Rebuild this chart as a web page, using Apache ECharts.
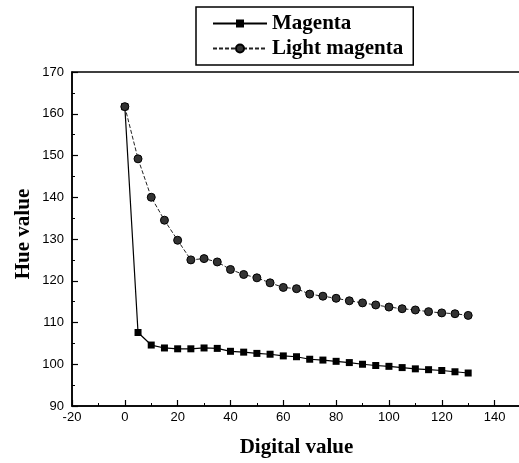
<!DOCTYPE html>
<html><head><meta charset="utf-8">
<script src="https://cdn.jsdelivr.net/npm/echarts@6/dist/echarts.min.js"></script>
<style>html,body{margin:0;padding:0;background:#fff}#c{width:519px;height:463px}</style>
</head><body><div id="c"></div>
<script>
const digital = [0,5,10,15,20,25,30,35,40,45,50,55,60,65,70,75,80,85,90,95,100,105,110,115,120,125,130];
const magenta = [161.7,107.6,104.6,103.9,103.7,103.7,103.9,103.8,103.1,102.9,102.6,102.4,102.0,101.8,101.2,101.0,100.7,100.4,100.0,99.7,99.5,99.2,98.9,98.7,98.5,98.2,97.9];
const lightMagenta = [161.7,149.2,140.0,134.5,129.7,125.0,125.3,124.5,122.7,121.5,120.7,119.5,118.4,118.1,116.8,116.3,115.8,115.2,114.7,114.2,113.7,113.3,113.0,112.6,112.3,112.1,111.7];
const xTicks = [-20,0,20,40,60,80,100,120,140];
const yTicks = [90,100,110,120,130,140,150,160,170];

const chart = echarts.init(document.getElementById('c'), null, {renderer:'canvas'});
const pair = (xs, ys) => xs.map((x,i)=>[x, ys[i]]);
chart.setOption({
  animation:false,
  backgroundColor:'#fff',
  grid:{left:72, right:-2, top:72, bottom:57, outerBoundsMode:'none', containLabel:false,
    show:true, borderColor:'#000', borderWidth:1.5, backgroundColor:'transparent'},
  legend:{
    show:true, orient:'vertical', left:196, top:7, width:218,
    padding:[6,10,6,16], itemGap:4, itemWidth:54, itemHeight:10,
    borderColor:'#000', borderWidth:1.5,
    textStyle:{fontFamily:'Liberation Serif', fontWeight:'bold', fontSize:21, color:'#000'},
    data:[{name:'Magenta'},{name:'Light magenta'}]
  },
  graphic:[{
    type:'text', x:24, y:234, rotation:Math.PI/2,
    style:{text:'Hue value', fontFamily:'Liberation Serif', fontWeight:'bold', fontSize:21,
      fill:'#000', align:'center', verticalAlign:'middle'}
  }],
  xAxis:{
    type:'value', min:-20, max:150, interval:20,
    axisLine:{show:true, onZero:false, lineStyle:{color:'#000', width:1.5}},
    axisTick:{show:true, inside:true, length:6, lineStyle:{color:'#000', width:1.2}},
    minorTick:{show:true, splitNumber:2, length:3, lineStyle:{color:'#000', width:1}},
    splitLine:{show:false},
    axisLabel:{fontFamily:'Liberation Sans', fontSize:13, color:'#000', margin:5,
      formatter:v => xTicks.includes(v) ? String(v) : ''},
    name:'Digital value', nameLocation:'middle', nameGap:31,
    nameTextStyle:{fontFamily:'Liberation Serif', fontWeight:'bold', fontSize:21, color:'#000'}
  },
  yAxis:{
    type:'value', min:90, max:170, interval:10,
    axisLine:{show:true, onZero:false, lineStyle:{color:'#000', width:1.5}},
    axisTick:{show:true, inside:true, length:6, lineStyle:{color:'#000', width:1.2}},
    minorTick:{show:true, splitNumber:2, length:3, lineStyle:{color:'#000', width:1}},
    splitLine:{show:false},
    axisLabel:{fontFamily:'Liberation Sans', fontSize:13, color:'#000', margin:8,
      formatter:v => yTicks.includes(v) ? String(v) : ''}
  },
  series:[
    {name:'Magenta', type:'line', data:pair(digital, magenta),
      symbol:'rect', symbolSize:7,
      lineStyle:{color:'#000', width:1.2, type:'solid'},
      itemStyle:{color:'#000', borderColor:'#000', borderWidth:0}},
    {name:'Light magenta', type:'line', data:pair(digital, lightMagenta),
      symbol:'circle', symbolSize:8,
      lineStyle:{color:'#222', width:1, type:[4,2]},
      itemStyle:{color:'#333', borderColor:'#000', borderWidth:1}}
  ]
});
</script></body></html>
